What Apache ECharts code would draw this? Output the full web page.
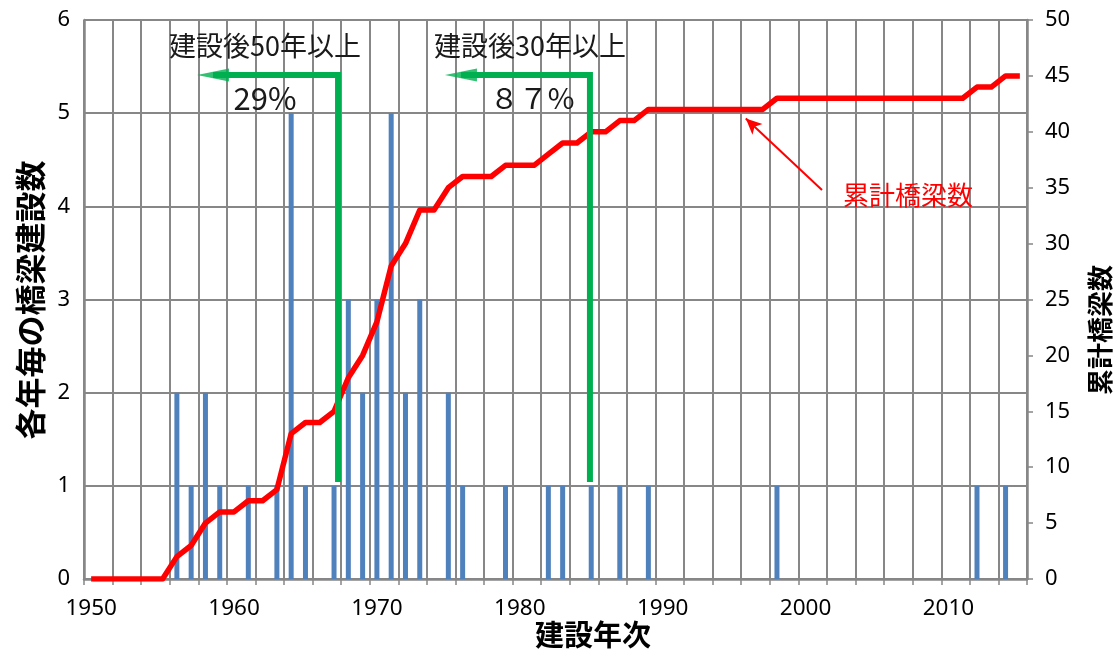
<!DOCTYPE html>
<html>
<head>
<meta charset="utf-8">
<script src="https://cdn.jsdelivr.net/npm/echarts@6/dist/echarts.min.js"></script>
<style>
html,body{margin:0;padding:0;background:#fff;}
#chart{width:1115px;height:652px;}
</style>
</head>
<body>
<div id="chart"></div>
<script>
// Categories: construction years
const years = ['1950','1951','1952','1953','1954','1955','1956','1957','1958','1959',
  '1960','1961','1962','1963','1964','1965','1966','1967','1968','1969',
  '1970','1971','1972','1973','1974','1975','1976','1977','1978','1979',
  '1980','1981','1982','1983','1984','1985','1986','1987','1988','1989',
  '1990','1991','1992','1993','1994','1995','1996','1997','1998','1999',
  '2000','2001','2002','2003','2004','2005','2006','2007','2008','2009',
  '2010','2011','2012','2013','2014','2015'];
// Bridges built in each year (left axis)
const bridgesPerYear = [0,0,0,0,0,0,2,1,2,1,
  0,1,0,1,5,1,0,1,3,2,
  3,5,2,3,0,2,1,0,0,1,
  0,0,1,1,0,1,0,1,0,1,
  0,0,0,0,0,0,0,0,1,0,
  0,0,0,0,0,0,0,0,0,0,
  0,0,1,0,1,0];
// Cumulative number of bridges (right axis)
const cumulativeBridges = [0,0,0,0,0,0,2,3,5,6,
  6,7,7,8,13,14,14,15,18,20,
  23,28,30,33,33,35,36,36,36,37,
  37,37,38,39,39,40,40,41,41,42,
  42,42,42,42,42,42,42,42,43,43,
  43,43,43,43,43,43,43,43,43,43,
  43,43,44,44,45,45];
// Left axis ticks 0..6, right axis ticks 0..50 step 5
const leftTicks = [0,1,2,3,4,5,6];
const rightTicks = [0,5,10,15,20,25,30,35,40,45,50];

// Annotations (in axis units: fractional year, left-axis value)
const bracket50 = [[1967.28,1.04],[1967.28,5.41],[1958.53,5.41]];
const bracket30 = [[1984.91,1.04],[1984.91,5.41],[1975.88,5.41]];
const arrowHeads = [[1958.53,5.41],[1975.88,5.41]];

const gray = '#878787';
const chart = echarts.init(document.getElementById('chart'));
const option = {
  animation:false,
  backgroundColor:'#ffffff',
  grid:{left:84,right:88,top:20,bottom:73,containLabel:false},
  xAxis:[{
    type:'category',
    data:years,
    boundaryGap:true,
    axisLine:{show:true,lineStyle:{color:gray,width:2.5}},
    axisTick:{show:true,interval:1,length:6,lineStyle:{color:gray,width:1.5}},
    axisLabel:{interval:function(i,v){return Number(v)%10===0;},margin:18,fontSize:22.5,color:'#000',fontFamily:'Noto Sans'},
    splitLine:{show:true,interval:1,lineStyle:{color:gray,width:2}}
  },{
    type:'value',min:1949.5,max:2015.5,show:false,
    axisLine:{show:false},axisTick:{show:false},axisLabel:{show:false},splitLine:{show:false}
  }],
  yAxis:[{
    type:'value',min:leftTicks[0],max:leftTicks[leftTicks.length-1],interval:1,
    position:'left',
    axisLine:{show:true,lineStyle:{color:gray,width:2.5}},
    axisTick:{show:false},
    axisLabel:{margin:14,fontSize:22,color:'#000',fontFamily:'Noto Sans'},
    splitLine:{show:true,lineStyle:{color:gray,width:2}}
  },{
    type:'value',min:rightTicks[0],max:rightTicks[rightTicks.length-1],interval:5,
    position:'right',
    axisLine:{show:true,lineStyle:{color:gray,width:2.5}},
    axisTick:{show:true,inside:false,length:6,lineStyle:{color:gray,width:1.5}},
    axisLabel:{margin:18,fontSize:22,color:'#000',fontFamily:'Noto Sans'},
    splitLine:{show:false}
  }],
  series:[{
    type:'bar',xAxisIndex:0,yAxisIndex:0,
    data:bridgesPerYear,barWidth:5,
    itemStyle:{color:'#4f81bd'},silent:true,z:2
  },{
    type:'line',xAxisIndex:0,yAxisIndex:1,
    data:cumulativeBridges,showSymbol:false,symbol:'none',
    lineStyle:{color:'#ff0000',width:5.5,join:'round'},silent:true,z:3,
    markLine:{
      silent:true,symbol:['none','arrow'],symbolSize:[11,16],
      label:{show:false},
      lineStyle:{color:'#ff0000',width:2,type:'solid'},
      data:[[{x:822,y:190},{x:745.8,y:118.5}]]
    }
  },{
    type:'line',xAxisIndex:1,yAxisIndex:0,data:bracket50,showSymbol:false,symbol:'none',
    lineStyle:{color:'#00b050',width:6,cap:'butt',join:'miter'},silent:true,z:5
  },{
    type:'line',xAxisIndex:1,yAxisIndex:0,data:bracket30,showSymbol:false,symbol:'none',
    lineStyle:{color:'#00b050',width:6,cap:'butt',join:'miter'},silent:true,z:5
  },{
    type:'scatter',xAxisIndex:1,yAxisIndex:0,data:arrowHeads,
    symbol:'triangle',symbolSize:[13,32],symbolRotate:90,
    itemStyle:{color:'#00b050'},silent:true,z:6
  }],
  graphic:[
    {type:'text',x:265,y:46,z:10,style:{text:'建設後50年以上',align:'center',verticalAlign:'middle',fontSize:27,fontFamily:'Noto Sans CJK JP',fill:'#1a1a1a'}},
    {type:'text',x:265,y:98,z:10,style:{text:'29%',align:'center',verticalAlign:'middle',fontSize:31,fontFamily:'Noto Sans CJK JP',fill:'#1a1a1a'}},
    {type:'text',x:530,y:46,z:10,style:{text:'建設後30年以上',align:'center',verticalAlign:'middle',fontSize:27,fontFamily:'Noto Sans CJK JP',fill:'#1a1a1a'}},
    {type:'text',x:532,y:98,z:10,style:{text:'８７%',align:'center',verticalAlign:'middle',fontSize:29,fontFamily:'Noto Sans CJK JP',fill:'#1a1a1a'}},
    {type:'text',x:908,y:195,z:10,style:{text:'累計橋梁数',align:'center',verticalAlign:'middle',fontSize:26,fontFamily:'Noto Sans CJK JP',fill:'#ff0000'}},
    {type:'text',x:30,y:300,rotation:Math.PI/2,z:10,style:{text:'各年毎の橋梁建設数',align:'center',verticalAlign:'middle',fontSize:31,fontWeight:'bold',fontFamily:'Noto Sans CJK JP',fill:'#000'}},
    {type:'text',x:1100,y:330,rotation:Math.PI/2,z:10,style:{text:'累計橋梁数',align:'center',verticalAlign:'middle',fontSize:26,fontWeight:'bold',fontFamily:'Noto Sans CJK JP',fill:'#000'}},
    {type:'text',x:593,y:635,z:10,style:{text:'建設年次',align:'center',verticalAlign:'middle',fontSize:29,fontWeight:'bold',fontFamily:'Noto Sans CJK JP',fill:'#000'}}
  ]
};
chart.setOption(option);
</script>
</body>
</html>
